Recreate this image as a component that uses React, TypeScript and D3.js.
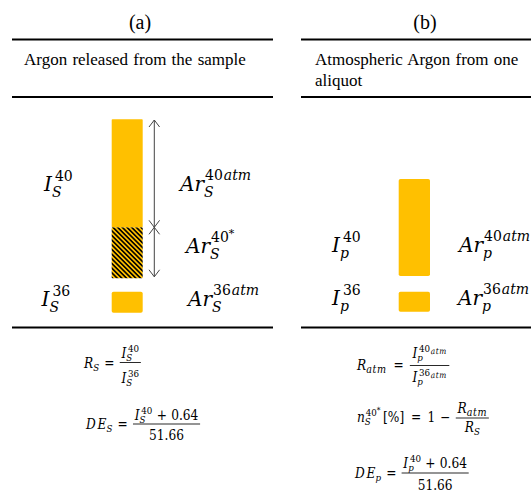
import React, { useEffect, useRef } from 'react';
import * as d3 from 'd3';

const W = 531;
const H = 494;

// ---- data ----
const panelLabels = ['(a)', '(b)'];
const panelTitles = [['Argon released from the sample'], ['Atmospheric Argon from one', 'aliquot']];
// stacked 40Ar bars (bottom -> top), arbitrary units
const sampleStack = [
  { key: 'Ar40*', value: 51, hatched: true },
  { key: 'Ar40atm', value: 108, hatched: false },
];
const aliquotStack = [{ key: 'Ar40atm', value: 97, hatched: false }];
const i36Values = [21, 20];

const GOLD = '#FFC000';
const MATH = "'DejaVu Serif', serif";
const TEXT = "'Liberation Serif', 'Times New Roman', serif";

type Seg = { t: string; s: number; i?: boolean; dy?: number; dx?: number; stack?: boolean; ls?: number };

function drawSeq(g: any, segs: Seg[], x: number, y: number): number {
  let cursor = x;
  let lastStart = x;
  for (const sg of segs) {
    const start = sg.stack ? lastStart + (sg.dx || 0) : cursor + (sg.dx || 0);
    const t = g
      .append('text')
      .attr('x', start)
      .attr('y', y + (sg.dy || 0))
      .attr('font-size', sg.s)
      .attr('font-style', sg.i ? 'italic' : 'normal')
      .attr('letter-spacing', sg.ls || 0)
      .text(sg.t);
    const w = (t.node() as SVGTextElement).getComputedTextLength();
    const end = start + w;
    if (sg.stack) cursor = Math.max(cursor, end);
    else {
      lastStart = start;
      cursor = end;
    }
  }
  return cursor - x;
}

function drawFrac(g: any, num: Seg[], den: Seg[], x: number, barY: number, numOff: number, denOff: number, pad = 2): number {
  const gn = g.append('g');
  const wn = drawSeq(gn, num, 0, 0);
  const gd = g.append('g');
  const wd = drawSeq(gd, den, 0, 0);
  const w = Math.max(wn, wd) + 2 * pad;
  gn.attr('transform', `translate(${x + (w - wn) / 2},${barY - numOff})`);
  gd.attr('transform', `translate(${x + (w - wd) / 2},${barY + denOff})`);
  g.append('line')
    .attr('x1', x)
    .attr('x2', x + w)
    .attr('y1', barY)
    .attr('y2', barY)
    .attr('stroke', '#000')
    .attr('stroke-width', 0.9);
  return w;
}

// big label helpers (size 20 / 14)
const B = 20;
const S = 14;
const Ilab = (sub: string, iso: string): Seg[] => [
  { t: 'I', s: B, i: true },
  { t: sub, s: S, i: true, dy: 6, dx: 0 },
  { t: iso, s: S, dy: -10, stack: true, dx: 3 },
];
const ArAtm = (sub: string, iso: string): Seg[] => [
  { t: 'Ar', s: B, i: true },
  { t: sub, s: S, i: true, dy: 6, dx: 0 },
  { t: iso, s: S, dy: -11, stack: true, dx: 1 },
  { t: 'atm', s: S, i: true, dy: -11, dx: 1 },
];
const ArStar: Seg[] = [
  { t: 'Ar', s: B, i: true },
  { t: 'S', s: S, i: true, dy: 6, dx: 0 },
  { t: '40', s: S, dy: -11, stack: true, dx: 1 },
  { t: '*', s: 11, dy: -16 },
];

// formula sizes
const F = 14;
const f = 10;
const fs = 8.5;
const SX = 0.87;

export default function App() {
  const ref = useRef<SVGSVGElement | null>(null);

  useEffect(() => {
    const svg = d3.select(ref.current);
    svg.selectAll('*').remove();

    const defs = svg.append('defs');
    const pat = defs
      .append('pattern')
      .attr('id', 'hatch')
      .attr('width', 3.3)
      .attr('height', 3.3)
      .attr('patternUnits', 'userSpaceOnUse')
      .attr('patternTransform', 'rotate(-45)');
    pat.append('rect').attr('width', 3.3).attr('height', 3.3).attr('fill', GOLD);
    pat.append('line').attr('x1', 1.65).attr('x2', 1.65).attr('y1', 0).attr('y2', 3.3).attr('stroke', '#000').attr('stroke-width', 1.6);

    // ----- rules -----
    const rules = [
      { x1: 12, x2: 273 },
      { x1: 301, x2: 531 },
    ];
    const ruleY = [39.5, 97, 327.5];
    rules.forEach((r) =>
      ruleY.forEach((y) =>
        svg.append('line').attr('x1', r.x1).attr('x2', r.x2).attr('y1', y).attr('y2', y).attr('stroke', '#000').attr('stroke-width', 2)
      )
    );

    // ----- headers -----
    const headerX = [140, 425];
    panelLabels.forEach((lab, i) =>
      svg
        .append('text')
        .attr('x', headerX[i])
        .attr('y', 29)
        .attr('text-anchor', 'middle')
        .attr('font-family', TEXT)
        .attr('font-size', 20)
        .text(lab)
    );
    const titleX = [24, 315];
    panelTitles.forEach((lines, i) =>
      lines.forEach((ln, j) =>
        svg
          .append('text')
          .attr('x', titleX[i])
          .attr('y', 65 + j * 21)
          .attr('font-family', TEXT)
          .attr('font-size', 17)
          .attr('word-spacing', 1)
          .text(ln)
      )
    );

    // ----- bars -----
    const h = d3.scaleLinear().domain([0, 100]).range([0, 100]);
    const barsCfg = [
      { x: 111.7, w: 31, base40: 278.3, base36: 312.7, stack: sampleStack, v36: i36Values[0] },
      { x: 398.7, w: 31.3, base40: 276, base36: 311.7, stack: aliquotStack, v36: i36Values[1] },
    ];
    barsCfg.forEach((b) => {
      let acc = 0;
      b.stack.forEach((d) => {
        const y1 = b.base40 - h(acc + d.value);
        svg
          .append('rect')
          .attr('x', b.x)
          .attr('y', y1)
          .attr('width', b.w)
          .attr('height', h(d.value))
          .attr('rx', b.stack.length > 1 ? 0.8 : 1.8)
          .attr('fill', d.hatched ? 'url(#hatch)' : GOLD);
        acc += d.value;
      });
      svg
        .append('rect')
        .attr('x', b.x)
        .attr('y', b.base36 - h(b.v36))
        .attr('width', b.w)
        .attr('height', h(b.v36))
        .attr('rx', 1.8)
        .attr('fill', GOLD);
    });

    // ----- dimension arrows -----
    const ax = 154.3;
    const b0 = barsCfg[0];
    const yTop = b0.base40 - h(sampleStack[0].value + sampleStack[1].value) + 0.7;
    const yMid = b0.base40 - h(sampleStack[0].value);
    const yBot = b0.base40 - 1.5;
    const ac = '#444';
    const ag = svg.append('g').attr('stroke', ac).attr('fill', 'none').attr('stroke-width', 1);
    ag.append('line').attr('x1', ax).attr('x2', ax).attr('y1', yTop).attr('y2', yBot);
    const hw = 5.3;
    const hl = 7;
    const chev = (y: number, dir: number) =>
      ag.append('path').attr('d', `M${ax - hw},${y + dir * hl} L${ax},${y} L${ax + hw},${y + dir * hl}`);
    chev(yTop, 1);
    chev(yMid, -1);
    chev(yMid, 1);
    chev(yBot, -1);

    // ----- big labels -----
    const lg = svg.append('g').attr('font-family', MATH);
    drawSeq(lg, Ilab('S', '40'), 44, 191);
    drawSeq(lg, ArAtm('S', '40'), 180, 191);
    drawSeq(lg, ArStar, 186, 253);
    drawSeq(lg, Ilab('S', '36'), 41.5, 306);
    drawSeq(lg, ArAtm('S', '36'), 188, 306);
    drawSeq(lg, Ilab('p', '40'), 332, 252);
    drawSeq(lg, ArAtm('p', '40'), 459, 252);
    drawSeq(lg, Ilab('p', '36'), 332, 305);
    drawSeq(lg, ArAtm('p', '36'), 458, 305);

    // ----- formulas (drawn in local coords, horizontally condensed) -----
    const formula = (x: number, y: number) =>
      svg.append('g').attr('font-family', MATH).attr('transform', `translate(${x},${y}) scale(${SX},1)`);
    const Ifr = (sub: string, iso: string, atm = false): Seg[] => {
      const s: Seg[] = [
        { t: 'I', s: F, i: true },
        { t: sub, s: f, i: true, dy: 3, dx: 0 },
        { t: iso, s: f, dy: -6, stack: true, dx: 2 },
      ];
      if (atm) s.push({ t: 'atm', s: fs, i: true, dy: -4, dx: 0.8, ls: 0.6 });
      return s;
    };
    const eq: Seg = { t: '=', s: F, dx: 6 };
    const G = 6;
    const atmSub: Seg = { t: 'atm', s: 11, i: true, dy: 3, ls: 0.7 };

    // R_S
    let g = formula(84, 368);
    let w = drawSeq(g, [{ t: 'R', s: F, i: true }, { t: 'S', s: f, i: true, dy: 3 }, eq], 0, 0);
    drawFrac(g, Ifr('S', '40'), Ifr('S', '36'), w + G, -5.5, 4.5, 20);

    // DE_S
    const numDE = (sub: string): Seg[] => [...Ifr(sub, '40'), { t: '+', s: F, dx: 5 }, { t: '0.64', s: F, dx: 5 }];
    g = formula(86, 429);
    w = drawSeq(g, [{ t: 'D', s: F, i: true }, { t: 'E', s: F, i: true, dx: 2 }, { t: 'S', s: f, i: true, dy: 3 }, eq], 0, 0);
    drawFrac(g, numDE('S'), [{ t: '51.66', s: F }], w + G, -5, 4.5, 15.5);

    // R_atm
    g = formula(357, 370);
    w = drawSeq(g, [{ t: 'R', s: F, i: true }, atmSub, { ...eq, dx: 8 }], 0, 0);
    drawFrac(g, Ifr('p', '40', true), Ifr('p', '36', true), w + G + 1, -4.5, 7.5, 16.5, 3);

    // n_S^40*
    g = formula(357, 422);
    w = drawSeq(
      g,
      [
        { t: 'n', s: F, i: true },
        { t: 'S', s: f, i: true, dy: 3 },
        { t: '40', s: f, dy: -6, stack: true, dx: 1 },
        { t: '*', s: fs, dy: -9 },
        { t: '[%]', s: F, dx: 3 },
        { ...eq, dx: 8 },
        { t: '1', s: F, dx: 7 },
        { t: '\u2212', s: F, dx: 6 },
      ],
      0,
      0
    );
    drawFrac(g, [{ t: 'R', s: F, i: true }, atmSub], [{ t: 'R', s: F, i: true }, { t: 'S', s: f, i: true, dy: 3 }], w + G, -4, 5, 14);

    // DE_p
    g = formula(355, 478);
    w = drawSeq(g, [{ t: 'D', s: F, i: true }, { t: 'E', s: F, i: true, dx: 2 }, { t: 'p', s: f, i: true, dy: 3 }, eq], 0, 0);
    drawFrac(g, numDE('p'), [{ t: '51.66', s: F }], w + G, -5, 5, 16.5);
  }, []);

  return (
    <div style={{ position: 'absolute', left: 0, top: 0 }}>
      <svg ref={ref} width={W} height={H} style={{ display: 'block', background: '#fff' }} />
    </div>
  );
}
